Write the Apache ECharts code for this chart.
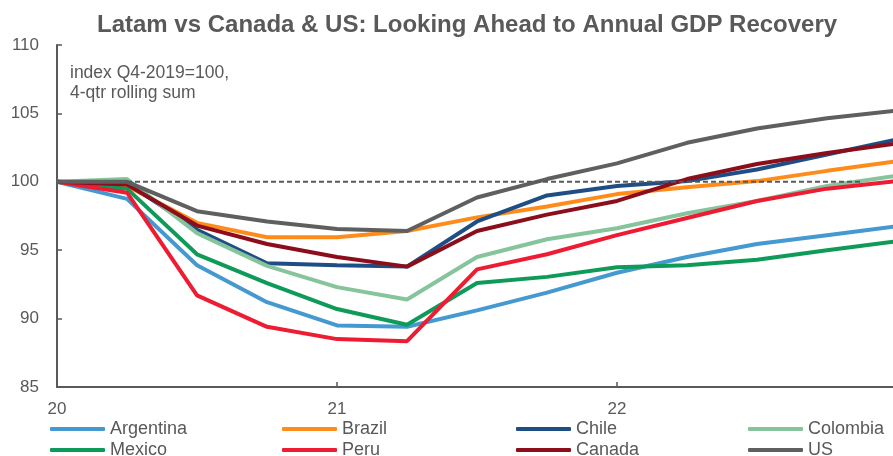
<!DOCTYPE html>
<html>
<head>
<meta charset="utf-8">
<script src="https://cdn.jsdelivr.net/npm/echarts@6/dist/echarts.min.js"></script>
<style>html,body{margin:0;padding:0;background:#fff}#c{width:893px;height:456px}</style>
</head>
<body>
<div id="c"></div>
<script>
// Quarters: Q4-2019 .. Q4-2022 (x index 0..12)
var quarters = ['Q4-19','Q1-20','Q2-20','Q3-20','Q4-20','Q1-21','Q2-21','Q3-21','Q4-21','Q1-22','Q2-22','Q3-22','Q4-22'];
var yearTickLabels = ['20','21','22'];

var argentina = [100, 98.75, 93.9, 91.2, 89.5, 89.4, 90.6, 91.9, 93.35, 94.5, 95.45, 96.1, 96.75];
var brazil    = [100, 99.7, 97.0, 95.95, 95.95, 96.4, 97.4, 98.2, 99.1, 99.6, 100.05, 100.8, 101.5];
var chile     = [100, 99.9, 96.5, 94.05, 93.9, 93.8, 97.1, 99.0, 99.7, 100.05, 100.9, 102.0, 103.1];
var colombia  = [100, 100.2, 96.25, 93.85, 92.3, 91.4, 94.5, 95.8, 96.6, 97.7, 98.6, 99.7, 100.45];
var mexico    = [100, 99.5, 94.7, 92.6, 90.7, 89.55, 92.6, 93.05, 93.75, 93.9, 94.3, 95.0, 95.65];
var peru      = [100, 99.2, 91.7, 89.4, 88.5, 88.35, 93.6, 94.7, 96.1, 97.35, 98.6, 99.5, 100.05];
var canada    = [100, 99.8, 96.8, 95.45, 94.5, 93.8, 96.4, 97.6, 98.6, 100.2, 101.3, 102.1, 102.8];
var us        = [100, 100.0, 97.85, 97.1, 96.55, 96.4, 98.85, 100.2, 101.35, 102.85, 103.9, 104.65, 105.2];

var refLevel = 100, refStart = 1, refEnd = 11.5;

var names  = ['Argentina','Brazil','Chile','Colombia','Mexico','Peru','Canada','US'];
var values = [argentina, brazil, chile, colombia, mexico, peru, canada, us];
var colors = ['#4499D0','#FF8C1A','#1F4E85','#86C49C','#0E9A58','#EE1C33','#8B0E1A','#5F5F5F'];

var txt = '#595959';
var font = "'Liberation Sans', Arial, sans-serif";

var series = [];
names.forEach(function (n, i) {
  series.push({
    name: n, type: 'line', symbol: 'none', z: 2 + i,
    data: values[i].map(function (v, k) { return [k, v]; }),
    lineStyle: {color: colors[i], width: 4},
    itemStyle: {color: colors[i]}
  });
});
series.push({
  name: 'ref', type: 'line', silent: true, symbol: 'none',
  data: [[refStart, refLevel], [refEnd, refLevel]],
  lineStyle: {color: '#595959', width: 2, type: [5, 3]}, z: 20
});

var legendLefts = [50, 282, 516, 748];
var legendTops = [419, 440];
var legends = names.map(function (n, i) {
  return {
    left: legendLefts[i % 4], top: legendTops[Math.floor(i / 4)], orient: 'horizontal',
    itemWidth: 55, itemHeight: 4, icon: 'roundRect', padding: 0,
    data: [n],
    textStyle: {color: txt, fontSize: 18, fontFamily: font, lineHeight: 20}
  };
});

var chart = echarts.init(document.getElementById('c'), null, {renderer: 'canvas'});
chart.setOption({
  animation: false,
  title: {
    text: 'Latam vs Canada & US: Looking Ahead to Annual GDP Recovery',
    left: 92, top: 8,
    textStyle: {color: txt, fontSize: 24, fontWeight: 'bold', fontFamily: font}
  },
  legend: legends,
  grid: {left: 57, top: 45, width: 840, height: 342, containLabel: false, outerBoundsMode: 'none'},
  xAxis: {
    type: 'value', min: 0, max: 12, interval: 4,
    axisLine: {lineStyle: {color: txt, width: 2}},
    axisTick: {inside: true, length: 5, lineStyle: {color: txt, width: 1.5}},
    splitLine: {show: false},
    axisLabel: {color: txt, fontSize: 17, fontFamily: font, margin: 14,
      formatter: function (v) { return yearTickLabels[v / 4] || ''; }}
  },
  yAxis: {
    type: 'value', min: 85, max: 110, interval: 5,
    axisLine: {show: true, lineStyle: {color: txt, width: 2}},
    axisTick: {show: true, inside: true, length: 5, lineStyle: {color: txt, width: 1.5}},
    splitLine: {show: false},
    axisLabel: {color: txt, fontSize: 17, fontFamily: font, margin: 18}
  },
  graphic: [{
    type: 'text', left: 70, top: 63,
    style: {text: 'index Q4-2019=100,\n4-qtr rolling sum', fill: txt, fontSize: 17.5, lineHeight: 20, fontFamily: font}
  }],
  series: series
});
</script>
</body>
</html>
